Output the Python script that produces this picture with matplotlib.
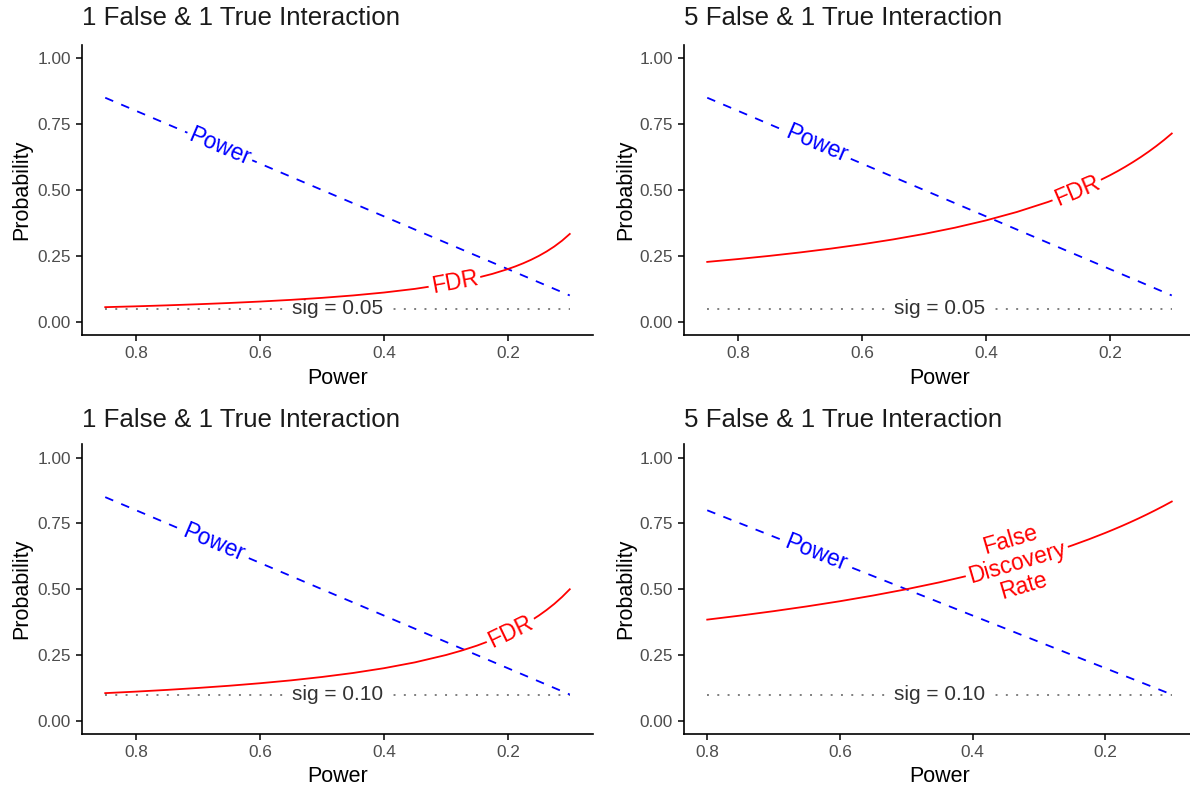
import numpy as np
import matplotlib
matplotlib.use("Agg")
import matplotlib.pyplot as plt

plt.rcParams['font.family'] = ['Liberation Sans', 'DejaVu Sans']

# ---- data ----
power = [0.85, 0.80, 0.75, 0.70, 0.65, 0.60, 0.55, 0.50, 0.45, 0.40, 0.35, 0.30,
         0.275, 0.25, 0.225, 0.20, 0.1875, 0.175, 0.1625, 0.15, 0.1375, 0.125,
         0.1125, 0.10]
power_br = power[1:]

fdr_tl = [0.0556, 0.0588, 0.0625, 0.0667, 0.0714, 0.0769, 0.0833, 0.0909, 0.1000,
          0.1111, 0.1250, 0.1429, 0.1538, 0.1667, 0.1818, 0.2000, 0.2105, 0.2222,
          0.2353, 0.2500, 0.2667, 0.2857, 0.3077, 0.3333]
fdr_tr = [0.2273, 0.2381, 0.2500, 0.2632, 0.2778, 0.2941, 0.3125, 0.3333, 0.3571,
          0.3846, 0.4167, 0.4545, 0.4762, 0.5000, 0.5263, 0.5556, 0.5714, 0.5882,
          0.6061, 0.6250, 0.6452, 0.6667, 0.6897, 0.7143]
fdr_bl = [0.1053, 0.1111, 0.1176, 0.1250, 0.1333, 0.1429, 0.1538, 0.1667, 0.1818,
          0.2000, 0.2222, 0.2500, 0.2667, 0.2857, 0.3077, 0.3333, 0.3478, 0.3636,
          0.3810, 0.4000, 0.4211, 0.4444, 0.4706, 0.5000]
fdr_br = [0.3846, 0.4000, 0.4167, 0.4348, 0.4545, 0.4762, 0.5000, 0.5263, 0.5556,
          0.5882, 0.6250, 0.6452, 0.6667, 0.6897, 0.7143, 0.7273, 0.7407, 0.7547,
          0.7692, 0.7843, 0.8000, 0.8163, 0.8333]

titles = ["1 False & 1 True Interaction", "5 False & 1 True Interaction",
          "1 False & 1 True Interaction", "5 False & 1 True Interaction"]
sig_levels = [0.05, 0.05, 0.10, 0.10]
sig_labels = ["sig = 0.05", "sig = 0.05", "sig = 0.10", "sig = 0.10"]
fdr_labels = ["FDR", "FDR", "FDR", "False\nDiscovery\nRate"]
x_ticks = [0.8, 0.6, 0.4, 0.2]
x_tick_labels = ["0.8", "0.6", "0.4", "0.2"]
y_ticks = [0.00, 0.25, 0.50, 0.75, 1.00]
y_tick_labels = ["0.00", "0.25", "0.50", "0.75", "1.00"]

# ---- layout ----
W, H = 1190, 786
fig = plt.figure(figsize=(W / 100, H / 100), dpi=100)
fig.patch.set_facecolor('white')

panels = [
    dict(rect=(82, 45, 511, 290), x=power, fdr=fdr_tl, xlim=(0.8875, 0.0625),
         power_lx=0.665, fdr_lx=0.286, title_y=18, xl=-0.114, yl=-0.098),
    dict(rect=(684, 45, 511, 290), x=power, fdr=fdr_tr, xlim=(0.8875, 0.0625),
         power_lx=0.674, fdr_lx=0.253, title_y=18, xl=-0.114, yl=-0.094),
    dict(rect=(82, 444.5, 511, 289.5), x=power, fdr=fdr_bl, xlim=(0.8875, 0.0625),
         power_lx=0.675, fdr_lx=0.195, title_y=420, xl=-0.11, yl=-0.098),
    dict(rect=(684, 444.5, 511, 289.5), x=power_br, fdr=fdr_br, xlim=(0.835, 0.065),
         power_lx=0.637, fdr_lx=0.333, title_y=420, xl=-0.11, yl=-0.094),
]

RED = '#FF0000'
BLUE = '#0000FF'


def path_label(ax, xs, ys, lx, text, color, size, z, linespacing=1.0):
    xa = np.asarray(xs)[::-1]
    ya = np.asarray(ys)[::-1]
    ly = np.interp(lx, xa, ya)
    d = 0.01
    p1 = ax.transData.transform((lx + d, np.interp(lx + d, xa, ya)))
    p2 = ax.transData.transform((lx - d, np.interp(lx - d, xa, ya)))
    ang = np.degrees(np.arctan2(p2[1] - p1[1], p2[0] - p1[0]))
    ax.text(lx, ly, text, rotation=ang, rotation_mode='anchor', ha='center',
            va='center', color=color, fontsize=size, linespacing=linespacing,
            multialignment='center',
            bbox=dict(boxstyle='square,pad=0.12', fc='white', ec='none'),
            zorder=z)


for i, p in enumerate(panels):
    l, t, w, h = p['rect']
    ax = fig.add_axes([l / W, 1 - (t + h) / H, w / W, h / H])
    ax.set_xlim(*p['xlim'])
    ax.set_ylim(-0.05, 1.05)
    for s in ['top', 'right']:
        ax.spines[s].set_visible(False)
    for s in ['left', 'bottom']:
        ax.spines[s].set_linewidth(1.2)
        ax.spines[s].set_color('black')
    ax.set_xticks(x_ticks)
    ax.set_xticklabels(x_tick_labels)
    ax.set_yticks(y_ticks)
    ax.set_yticklabels(y_tick_labels)
    ax.tick_params(direction='out', length=4, width=1.1, color='black',
                   labelcolor='#4D4D4D', labelsize=12.4)
    ax.tick_params(axis='x', pad=4)
    ax.tick_params(axis='y', pad=4)
    ax.set_xlabel("Power", fontsize=15.5, color='black')
    ax.set_ylabel("Probability", fontsize=15.5, color='black')
    ax.xaxis.set_label_coords(0.5, p['xl'])
    ax.yaxis.set_label_coords(p['yl'], 0.5)

    xs = p['x']
    # significance level line
    sig = sig_levels[i]
    ax.plot([xs[0], xs[-1]], [sig, sig], color='#7F7F7F', lw=1.4,
            linestyle=(0, (1, 4.3)), zorder=1)
    ax.text((xs[0] + xs[-1]) / 2, sig, sig_labels[i], ha='center', va='center',
            fontsize=15, color='#333333',
            bbox=dict(boxstyle='square,pad=0.15', fc='white', ec='none'),
            zorder=2)
    # power line
    ax.plot(xs, xs, color=BLUE, lw=1.3, linestyle=(0, (4.8, 4.8)), zorder=3)
    # FDR curve
    ax.plot(xs, p['fdr'], color=RED, lw=1.3, zorder=3)

    path_label(ax, xs, xs, p['power_lx'], "Power", BLUE, 16.5, 4)
    path_label(ax, xs, p['fdr'], p['fdr_lx'], fdr_labels[i], RED, 16.5, 4,
               linespacing=1.05)

    fig.text(l / W, 1 - p['title_y'] / H, titles[i], ha='left', va='center',
             fontsize=18.6, color='#1A1A1A')

fig.savefig("out.png", dpi=100, facecolor='white')
